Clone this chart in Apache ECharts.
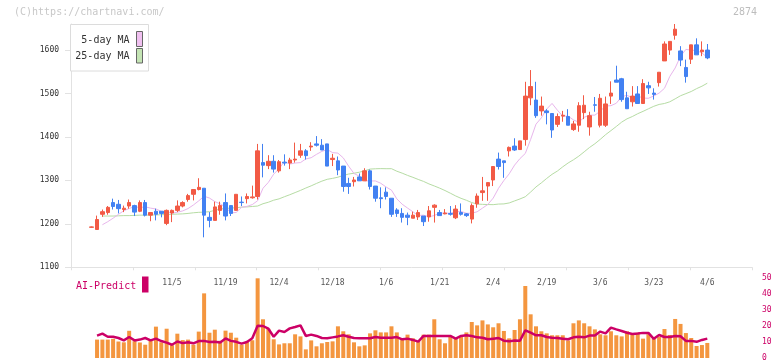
<!DOCTYPE html>
<html><head><meta charset="utf-8">
<script src="https://cdn.jsdelivr.net/npm/echarts@6.0.0/dist/echarts.min.js"></script>
<style>html,body{margin:0;padding:0;background:#fff}#c{width:772px;height:361px}</style>
</head><body><div id="c"></div>
<script>
const dates = ['10/14','10/15','10/16','10/17','10/20','10/21','10/22','10/23','10/24','10/27','10/28','10/29','10/30','10/31','11/4','11/5','11/6','11/7','11/10','11/11','11/12','11/13','11/14','11/17','11/18','11/19','11/20','11/21','11/25','11/26','11/27','11/28','12/1','12/2','12/3','12/4','12/5','12/8','12/9','12/10','12/11','12/12','12/15','12/16','12/17','12/18','12/19','12/22','12/23','12/24','12/25','12/26','12/29','12/30','1/5','1/6','1/7','1/8','1/9','1/13','1/14','1/15','1/16','1/19','1/20','1/21','1/22','1/23','1/26','1/27','1/28','1/29','1/30','2/2','2/3','2/4','2/5','2/6','2/9','2/10','2/12','2/13','2/16','2/17','2/18','2/19','2/20','2/24','2/25','2/26','2/27','3/2','3/3','3/4','3/5','3/6','3/9','3/10','3/11','3/12','3/13','3/16','3/17','3/18','3/19','3/23','3/24','3/25','3/26','3/27','3/30','3/31','4/1','4/2','4/3','4/6'];

const opens = [1192,1187,1222,1226,1249,1245,1233,1241,1242,1229, 1249,1220,1229,1229,1201,1225,1231,1241,1256,1268, 1279,1282,1215,1208,1231,1249,1242,1231,1250,1258, 1260,1263,1341,1334,1344,1322,1342,1340,1347,1358, 1368,1377,1384,1381,1384,1348,1345,1333,1293,1297, 1308,1299,1322,1287,1260,1273,1259,1232,1224,1220, 1213,1216,1218,1216,1238,1226,1223,1224,1214,1226, 1223,1211,1246,1272,1287,1301,1349,1345,1368,1379, 1371,1394,1490,1485,1460,1460,1454,1429,1448,1447, 1417,1427,1456,1423,1474,1427,1427,1494,1531,1534, 1490,1481,1499,1477,1518,1501,1525,1575,1600,1634, 1598,1560,1579,1612,1596,1600];
const closes = [1193,1210,1228,1238,1240,1235,1236,1249,1227,1249, 1220,1226,1222,1224,1231,1231,1241,1249,1265,1279, 1284,1220,1208,1239,1242,1218,1224,1268,1249,1263, 1262,1368,1335,1344,1326,1343,1340,1347,1349,1368, 1357,1379,1381,1370,1333,1351,1324,1286,1286,1301, 1299,1322,1286,1259,1258,1263,1222,1224,1215,1215, 1220,1226,1205,1230,1243,1219,1225,1222,1234,1222, 1219,1242,1264,1276,1295,1332,1332,1341,1376,1370, 1391,1494,1516,1449,1471,1456,1416,1447,1450,1427, 1430,1472,1473,1449,1473,1489,1476,1501,1526,1486, 1465,1494,1477,1523,1513,1498,1549,1614,1620,1648, 1577,1539,1612,1589,1600,1582];
const lows = [1191,1187,1216,1221,1233,1224,1227,1235,1218,1227, 1217,1206,1208,1215,1197,1204,1227,1238,1251,1254, 1277,1169,1192,1208,1221,1208,1218,1231,1241,1247, 1258,1256,1307,1326,1318,1318,1334,1326,1341,1352, 1348,1368,1378,1370,1333,1333,1312,1274,1269,1286, 1299,1299,1279,1251,1236,1256,1216,1216,1203,1197, 1213,1209,1195,1205,1203,1219,1222,1219,1211,1219, 1216,1201,1237,1253,1253,1287,1325,1306,1355,1368, 1371,1380,1473,1444,1449,1429,1398,1423,1435,1427, 1414,1412,1441,1403,1458,1422,1423,1476,1526,1481, 1465,1470,1477,1477,1499,1486,1516,1575,1589,1624, 1563,1525,1568,1589,1586,1579];
const highs = [1194,1219,1233,1241,1258,1255,1242,1256,1244,1254, 1255,1226,1235,1229,1233,1233,1254,1252,1269,1279, 1305,1282,1227,1251,1251,1270,1242,1268,1263,1270, 1288,1384,1384,1358,1358,1347,1360,1352,1387,1384, 1372,1388,1402,1395,1384,1361,1355,1333,1306,1308, 1316,1328,1325,1287,1284,1284,1259,1236,1236,1226, 1228,1232,1218,1241,1245,1232,1234,1241,1243,1247, 1225,1247,1270,1308,1295,1332,1364,1345,1378,1397, 1391,1527,1554,1527,1493,1464,1454,1454,1460,1464, 1437,1480,1496,1458,1492,1499,1493,1528,1564,1536, 1504,1517,1517,1533,1527,1512,1549,1620,1620,1660, 1609,1578,1612,1627,1620,1614];

// moving-average values before enough closes are visible, slots 2..
const ma5Head = [1198,1205,1213];
const ma25Head = [1218,1218,1218,1218.5,1219,1219,1219.5,1220,1220,1220.5,1220.5,1221,1221.5,1222,1222.5,1223,1224,1225.5,1226.5,1227,1228,1231,1234];

// lower panel (slots 1..115)
const aiBars = [11.5,11.5,11.5,12,10.3,9.8,17,10.5,9.7,8.3, 11,19.6,9.8,18.3,8,15.2,11.2,11.5,8.3,16.5, 40.4,15.8,17.7,10.8,17.1,15.8,12.7,8.3,10.2,11.1, 49.8,24.2,18.3,11.7,8.5,9.2,9.2,14.8,13.5,5.4, 11,7.3,9.2,10,10.4,19.8,16.7,14.8,9.8,7.3, 7.9,15.4,17.3,16,16,19.8,16,12.3,14.6,12.3, 10.6,14.6,14.6,24.2,11.7,9.2,13.5,12.3,13.1,16, 22.5,20.4,23.5,21,19.2,21.7,16.9,12.3,17.5,24.2, 45,27.3,19.8,16.7,15.4,14.2,14.2,14.2,11,21.7, 23.5,21.7,19.8,17.9,14.8,14.2,16.7,14.2,13.5,16.7, 14.5,15.8,12.1,14.9,11.9,13.1,18.1,14.4,24.4,21.3, 15.6,12.5,7.5,8.1,9.4];
const aiLine = [14,15.2,13.3,13.3,12.5,11,13.1,11,11.5,12.5, 11,12.1,10.6,9.6,8.3,10.3,9.3,9.9,9.2,10.6, 10.7,10,10.2,9.7,12.2,10.7,10.1,9,10,12.3, 20.2,20,18.3,13.3,17.1,16.3,18.5,19.4,20.4,13.8, 14.6,13.8,12.5,12.3,12.9,13.5,14.2,13.3,12.5,12.3, 12.3,12.3,13.1,12.7,12.7,12.7,13.1,11.7,12.1,11.3, 10.2,13.8,13.8,13.8,13.8,13.8,13.8,12.1,13.8,14.2, 13.8,12.9,12.7,11.7,12.1,12.5,10.8,10.4,11,10.8, 17.3,15.8,14.2,14.2,13.1,12.7,12.5,12.1,11.7,12.9, 13.3,12.9,14,14,16.5,15.4,19,17.9,16.9,15.8, 15,15.3,15.7,15.7,12,14.4,13.1,13.1,13.8,13.6, 10.7,10.7,10.1,11.3,12.1];

const priceTicks = [1100,1200,1300,1400,1500,1600];
const labelEvery = 10, firstLabel = 15;

const MONO = '"DejaVu Sans Mono", monospace';
const UP = '#f25a45', DOWN = '#4281f2';
const PINK = '#e8b6ec', GREEN = '#b6dca4', MAGENTA = '#cc0066', ORANGE = '#f4963f';

function maSeries(head, n) {
  const out = dates.map(() => '-');
  head.forEach((v, k) => { out[k + 2] = v; });
  for (let s = n; s < dates.length; s++) {
    let sum = 0;
    for (let j = s - n; j < s; j++) sum += closes[j];
    out[s] = +(sum / n).toFixed(2);
  }
  return out;
}
const candles = dates.map((d, i) => [opens[i], closes[i], lows[i], highs[i]]);
const barData = ['-'].concat(aiBars);
const lineData = ['-'].concat(aiLine);

const chart = echarts.init(document.getElementById('c'), null, {renderer: 'canvas'});
chart.setOption({
  animation: false,
  backgroundColor: '#fff',
  grid: [
    {left: 89.02, right: 62.03, top: 24, bottom: 93.7, outerBoundsMode: 'none'},
    {left: 89.02, right: 62.03, top: 278, bottom: 3, outerBoundsMode: 'none'},
    {left: 71, right: 20, top: 24, bottom: 93.7, outerBoundsMode: 'none'}
  ],
  xAxis: [
    {type: 'category', gridIndex: 0, data: dates, boundaryGap: true,
     axisLine: {show: false}, axisTick: {show: false}, splitLine: {show: false},
     axisLabel: {interval: (i) => i >= firstLabel && (i - firstLabel) % labelEvery === 0,
       margin: 12, fontSize: 8, color: '#555', fontFamily: MONO, hideOverlap: false}},
    {type: 'category', gridIndex: 1, data: dates, boundaryGap: true, show: false},
    {type: 'value', gridIndex: 2, min: 0, max: 11, interval: 1,
     axisLine: {show: true, lineStyle: {color: '#e2e2e2', width: 1}},
     axisTick: {show: true, length: 3, lineStyle: {color: '#e2e2e2'}},
     axisLabel: {show: false}, splitLine: {show: false}}
  ],
  yAxis: [
    {type: 'value', gridIndex: 0, min: 1100, max: 1660, position: 'left', offset: 18,
     axisLine: {show: true, lineStyle: {color: '#e2e2e2', width: 1}},
     axisTick: {show: true, length: 6, customValues: priceTicks, lineStyle: {color: '#e2e2e2'}},
     axisLabel: {customValues: priceTicks, margin: 12, fontSize: 8, color: '#333', fontFamily: MONO,
       formatter: (v) => String(Math.round(v))},
     splitLine: {show: false}},
    {type: 'value', gridIndex: 1, min: 0, max: 50, interval: 10, position: 'right', offset: 42,
     axisLine: {show: false}, axisTick: {show: false}, splitLine: {show: false},
     axisLabel: {margin: 10, fontSize: 8, color: MAGENTA, fontFamily: MONO, formatter: (v) => String(v)}},
    {type: 'value', gridIndex: 2, min: 0, max: 1, show: false}
  ],
  series: [
    {name: '25-day MA', type: 'line', xAxisIndex: 0, yAxisIndex: 0, data: maSeries(ma25Head, 25),
     showSymbol: false, symbol: 'none', z: 2, lineStyle: {color: GREEN, width: 1}, itemStyle: {color: GREEN}},
    {name: '5-day MA', type: 'line', xAxisIndex: 0, yAxisIndex: 0, data: maSeries(ma5Head, 5),
     showSymbol: false, symbol: 'none', z: 2, lineStyle: {color: PINK, width: 1}, itemStyle: {color: PINK}},
    {name: 'price', type: 'candlestick', xAxisIndex: 0, yAxisIndex: 0, data: candles, barWidth: 4, z: 3,
     itemStyle: {color: UP, color0: DOWN, borderColor: UP, borderColor0: DOWN, borderWidth: 1}},
    {name: 'AI', type: 'bar', xAxisIndex: 1, yAxisIndex: 1, data: barData, barWidth: 4,
     itemStyle: {color: ORANGE}, z: 2},
    {name: 'AI-Predict', type: 'line', xAxisIndex: 1, yAxisIndex: 1, data: lineData,
     showSymbol: false, symbol: 'none', z: 3, lineStyle: {color: MAGENTA, width: 2.5}}
  ],
  graphic: [
    {type: 'text', x: 14, y: 12, z: 50, style: {text: '(C)https://chartnavi.com/', font: '10px ' + MONO, fill: '#c8c8c8', verticalAlign: 'middle'}},
    {type: 'text', x: 757, y: 12, z: 50, style: {text: '2874', font: '10px ' + MONO, fill: '#bdbdbd', align: 'right', verticalAlign: 'middle'}},
    {type: 'rect', z: 100, shape: {x: 70.5, y: 24.5, width: 78, height: 46.5}, style: {fill: '#fff', stroke: '#dcdcdc', lineWidth: 1}},
    {type: 'text', z: 101, x: 129.5, y: 40.5, style: {text: '5-day MA', font: '10px ' + MONO, fill: '#333', align: 'right', verticalAlign: 'middle'}},
    {type: 'text', z: 101, x: 129.5, y: 56.7, style: {text: '25-day MA', font: '10px ' + MONO, fill: '#333', align: 'right', verticalAlign: 'middle'}},
    {type: 'rect', z: 101, shape: {x: 136.5, y: 31.5, width: 6, height: 15}, style: {fill: '#f0c0f0', stroke: '#666', lineWidth: 1}},
    {type: 'rect', z: 101, shape: {x: 136.5, y: 48.5, width: 6, height: 14.5}, style: {fill: '#c4e4b4', stroke: '#666', lineWidth: 1}},
    {type: 'text', z: 101, x: 76, y: 286, style: {text: 'AI-Predict', font: '10px ' + MONO, fill: MAGENTA, align: 'left', verticalAlign: 'middle'}},
    {type: 'rect', z: 101, shape: {x: 142, y: 276.5, width: 6.5, height: 16}, style: {fill: MAGENTA}}
  ]
});
</script>
</body></html>
